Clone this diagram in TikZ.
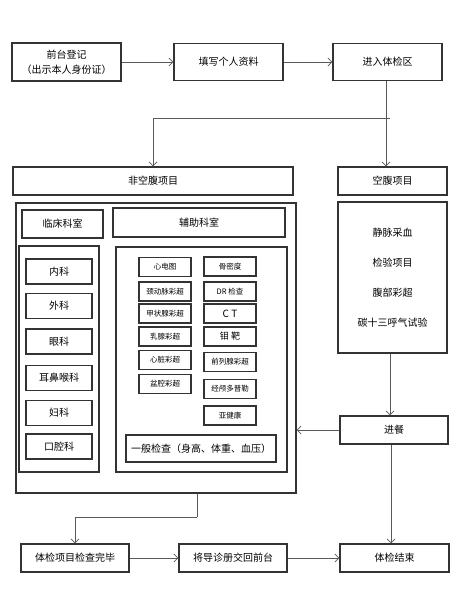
\documentclass[tikz,border=0pt]{standalone}
\usepackage{fontspec}
\setmainfont{Noto Sans CJK SC}
\usepackage{xcolor}
\usepackage{tikz}
\usetikzlibrary{arrows.meta}
\tikzstyle{node:box}=[rectangle,draw=black!80,line width=1.1pt,inner sep=0pt,minimum height=28pt,font=\fontsize{10}{12}\selectfont,align=center]
\tikzstyle{node:frame}=[rectangle,draw=black!80,line width=1.1pt,inner sep=0pt]
\tikzstyle{node:dept}=[node:box,minimum width=66pt,minimum height=25pt]
\tikzstyle{node:small}=[node:box,minimum width=52pt,minimum height=19pt,font=\fontsize{7.5}{9}\selectfont]
\tikzstyle{draw:connection}=[-{Straight Barb[length=4pt,width=8pt]}, black!65, line width=0.8pt]
\tikzstyle{draw:line}=[black!65, line width=0.8pt]

\begin{document}
\begin{tikzpicture}[x=1pt,y=-1pt]
        \useasboundingbox (0,0) rectangle (457,609);

        % Registration row
        \node[node:box,minimum width=109pt,minimum height=38pt,font=\fontsize{10}{15}\selectfont] (Reg) at (66.5,62) {前台登记\\（出示本人身份证）};
        \node[node:box,minimum width=109pt,minimum height=37pt] (Fill) at (228.5,62) {填写个人资料};
        \node[node:box,minimum width=109pt,minimum height=37pt] (Enter) at (387.5,62) {进入体检区};

        % Item headers
        \node[node:box,minimum width=280pt] (NonFast) at (153,181) {非空腹项目};
        \node[node:box,minimum width=109pt] (Fast) at (392.5,181) {空腹项目};

        % Non-fasting frame
        \node[node:frame,minimum width=280pt,minimum height=290pt] (Outer) at (156,348) {};
        \node[node:box,minimum width=81pt] (Clinic) at (62.5,224) {临床科室};
        \node[node:box,minimum width=172pt,minimum height=29pt] (Aux) at (199,222.5) {辅助科室};
        \node[node:frame,minimum width=80pt,minimum height=226pt] (ClinicCol) at (59,359) {};
        \node[node:frame,minimum width=171pt,minimum height=225pt] (AuxCol) at (201.5,359.5) {};

        % Clinical departments
        \node[node:dept] (D-1) at (59,271.5) {内科};
        \node[node:dept] (D-2) at (59,306) {外科};
        \node[node:dept] (D-3) at (59,341.5) {眼科};
        \node[node:dept] (D-4) at (59,378) {耳鼻喉科};
        \node[node:dept] (D-5) at (59,413) {妇科};
        \node[node:dept] (D-6) at (59,446.5) {口腔科};

        % Auxiliary departments (left column)
        \node[node:small] (A1-1) at (165,267) {心电图};
        \node[node:small] (A1-2) at (165,291.5) {颈动脉彩超};
        \node[node:small] (A1-3) at (165,313.5) {甲状腺彩超};
        \node[node:small] (A1-4) at (165,336.5) {乳腺彩超};
        \node[node:small] (A1-5) at (165,360) {心脏彩超};
        \node[node:small] (A1-6) at (165,384) {盆腔彩超};

        % Auxiliary departments (right column)
        \node[node:small] (A2-1) at (230,266.5) {骨密度};
        \node[node:small] (A2-2) at (230,291.5) {DR 检查};
        \node[node:small,font=\fontsize{10}{12}\selectfont] (A2-3) at (230,313.5) {C T};
        \node[node:small,font=\fontsize{9}{11}\selectfont] (A2-4) at (230,336.5) {钼 靶};
        \node[node:small] (A2-5) at (230,362) {前列腺彩超};
        \node[node:small] (A2-6) at (230,389) {经颅多普勒};
        \node[node:small] (A2-7) at (230,415.5) {亚健康};
        \node[node:box,minimum width=150pt,minimum height=27pt] (General) at (201,448.5) {一般检查（身高、体重、血压）};

        % Fasting items
        \node[node:box,minimum width=109pt,minimum height=151pt,font=\fontsize{10}{30}\selectfont] (FastList) at (392.5,277.5) {静脉采血\\检验项目\\腹部彩超\\碳十三呼气试验};
        \node[node:box,minimum width=108pt] (Meal) at (394,430) {进餐};

        % Final row
        \node[node:box,minimum width=108pt] (Done) at (75,558) {体检项目检查完毕};
        \node[node:box,minimum width=108pt] (Return) at (233,558) {将导诊册交回前台};
        \node[node:box,minimum width=109pt] (End) at (394.5,558) {体检结束};

        % Connections
        \draw[draw:connection] (Reg) -- (Fill);
        \draw[draw:connection] (Fill) -- (Enter);
        \coordinate (Split) at (390,118);
        \draw[draw:connection] (Enter.south -| 386,0) -- (Fast.north -| 386,0);
        \draw[draw:connection] (Split) -| (NonFast.north);
        \draw[draw:connection] (FastList.south -| 390,0) -- (Meal.north -| 390,0);
        \draw[draw:connection] (Meal.west) -- (Meal.west -| Outer.east);
        \draw[draw:connection] (Meal.south -| 391,0) -- (End.north -| 391,0);
        \coordinate (Bend) at (197,517);
        \draw[draw:line] (Outer.south -| Bend) -- (Bend);
        \draw[draw:connection] (Bend) -| (Done.north);
        \draw[draw:connection] (Done) -- (Return);
        \draw[draw:connection] (Return) -- (End);
    \end{tikzpicture}
\end{document}
